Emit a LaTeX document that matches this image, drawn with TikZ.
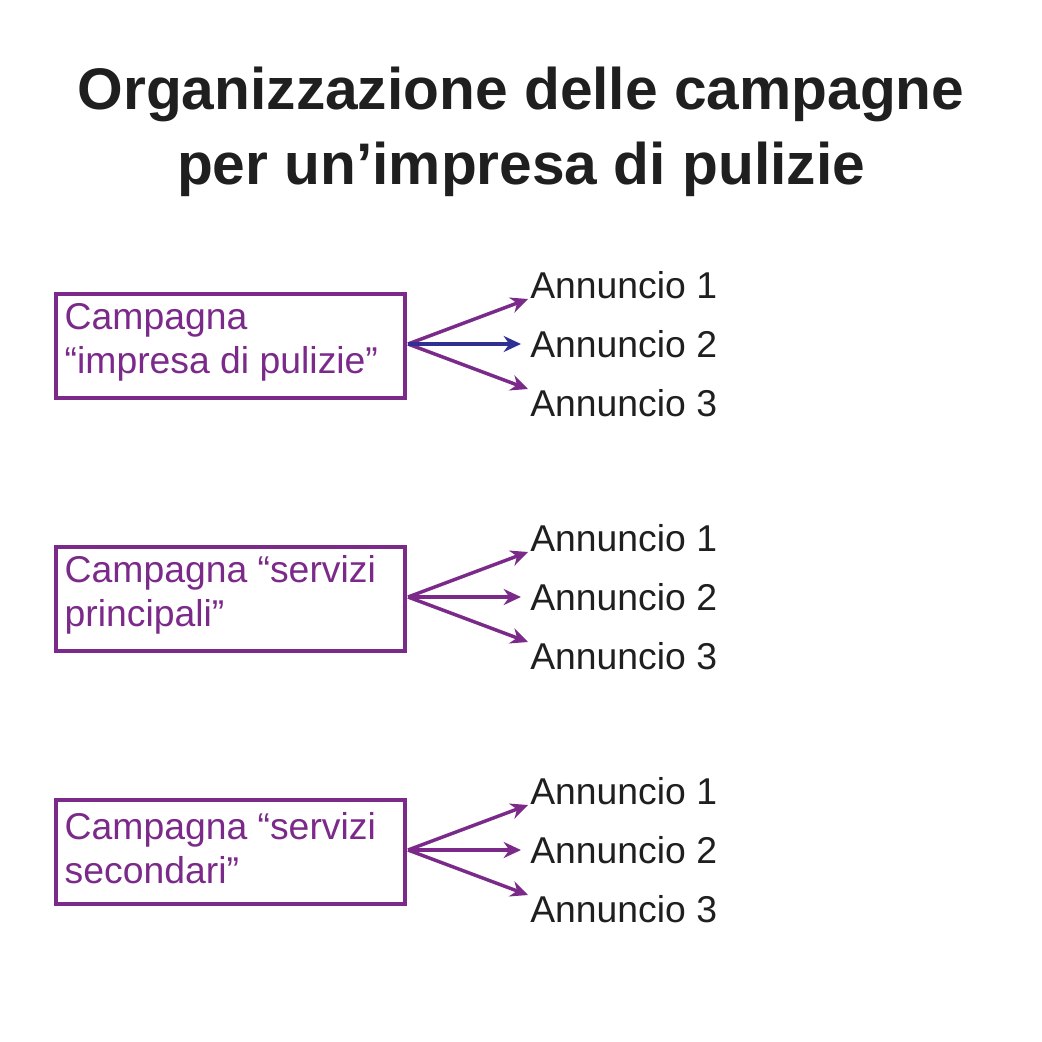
\documentclass[tikz,border=0pt]{standalone}
\usepackage{fontspec}
\setmainfont{Liberation Sans}
\usetikzlibrary{arrows.meta}
\definecolor{pur}{HTML}{7B2A8A}
\definecolor{blu}{HTML}{2E3192}
\tikzset{
 box/.style={draw=pur,line width=3pt,minimum width=262pt,minimum height=78pt,anchor=north west,inner sep=0},
 btxt/.style={text=pur,font=\fontsize{28}{33}\selectfont,anchor=west,align=left},
 ann/.style={text=black!88,font=\fontsize{28}{33}\selectfont,anchor=base west,inner sep=0},
 arr/.style={draw=pur,line width=2.6pt,-{Stealth[length=13pt,width=12pt]}}
}
\begin{document}
\begin{tikzpicture}[x=0.75pt,y=-0.75pt]
\useasboundingbox (0,0) rectangle (1042,1042);
\node[font=\fontsize{44}{56}\selectfont\bfseries,text=black!88,align=center] (title) at (521,132) {Organizzazione delle campagne\\per un’impresa di pulizie};
\foreach \i/\t in {0/{Campagna\\“impresa di pulizie”},1/{Campagna “servizi\\principali”},2/{Campagna “servizi\\secondari”}}{
 \pgfmathsetmacro\dy{\i*253}
 \node[box] (b\i) at (54,292+\dy) {};
 \node[btxt] (t\i) at (60,342+\dy) {\t};
 \coordinate (s\i) at (408,344+\dy);
 \node[ann] (a\i1) at (530,298+\dy) {Annuncio 1};
 \node[ann] (a\i2) at (530,357+\dy) {Annuncio 2};
 \node[ann] (a\i3) at (530,416+\dy) {Annuncio 3};
 \coordinate (e\i1) at (528,299+\dy);
 \coordinate (e\i2) at (521,344+\dy);
 \coordinate (e\i3) at (528,389+\dy);
 \draw[arr] (s\i) -- (e\i1);
 \draw[arr] (s\i) -- (e\i3);
}
\draw[arr,draw=blu] (s0) -- (e02);
\draw[arr] (s1) -- (e12);
\draw[arr] (s2) -- (e22);
\end{tikzpicture}
\end{document}
